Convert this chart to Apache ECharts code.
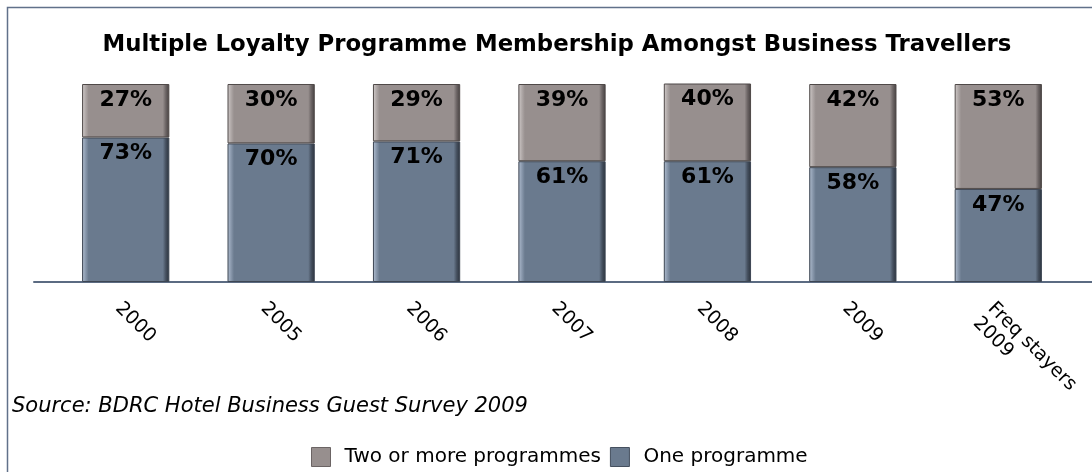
<!DOCTYPE html>
<html>
<head>
<meta charset="utf-8">
<script src="https://cdn.jsdelivr.net/npm/echarts@6/dist/echarts.min.js"></script>
<style>
html,body{margin:0;padding:0;background:#fff;}
#chart{width:1092px;height:472px;}
</style>
</head>
<body>
<div id="chart"></div>
<script>
const categories = ['2000', '2005', '2006', '2007', '2008', '2009', 'Freq stayers\n2009'];
const onePrograme = [73, 70, 71, 61, 61, 58, 47];
const twoOrMore = [27, 30, 29, 39, 40, 42, 53];
const seriesNames = ['One programme', 'Two or more programmes'];
const titleText = 'Multiple Loyalty Programme Membership Amongst Business Travellers';
const sourceText = 'Source: BDRC Hotel Business Guest Survey 2009';

const FONT = '"DejaVu Sans", Verdana, sans-serif';

function bevel(light, mid, main, dark, darker) {
  return {
    type: 'linear', x: 0, y: 0, x2: 1, y2: 0,
    colorStops: [
      { offset: 0, color: light },
      { offset: 0.04, color: mid },
      { offset: 0.075, color: main },
      { offset: 0.925, color: main },
      { offset: 0.96, color: dark },
      { offset: 1, color: darker }
    ]
  };
}

const blueFill = bevel('#b3c0d2', '#8a99ad', '#6a7a8e', '#45505f', '#2a313b');
const greyFill = bevel('#d3cdcc', '#b0a9a8', '#978f8e', '#6b6464', '#443f3f');

const labelCfg = {
  show: true,
  position: 'insideTop',
  distance: 5,
  formatter: '{c}%',
  fontFamily: FONT,
  fontSize: 22,
  fontWeight: 'bold',
  color: '#000'
};

const chart = echarts.init(document.getElementById('chart'), null, { renderer: 'canvas' });
chart.setOption({
  animation: false,
  backgroundColor: '#fff',
  title: [
    {
      text: titleText,
      left: 552,
      textAlign: 'center',
      top: 29,
      textStyle: { fontFamily: FONT, fontSize: 22.8, fontWeight: 'bold', color: '#000' }
    },
    {
      text: sourceText,
      left: 7,
      top: 391,
      textStyle: { fontFamily: FONT, fontSize: 21, fontWeight: 'normal', fontStyle: 'italic', color: '#000' }
    }
  ],
  legend: {
    data: [
      { name: seriesNames[1], itemStyle: { color: '#978f8e', borderColor: '#6b6464', borderWidth: 1 } },
      { name: seriesNames[0], itemStyle: { color: '#6a7a8e', borderColor: '#45505f', borderWidth: 1 } }
    ],
    left: 306,
    top: 442,
    icon: 'rect',
    itemWidth: 19,
    itemHeight: 19,
    itemGap: 9,
    textStyle: { fontFamily: FONT, fontSize: 20, color: '#000', padding: [0, 0, 0, 9] }
  },
  graphic: [
    {
      type: 'rect',
      shape: { x: 7.5, y: 7.5, width: 1300, height: 900 },
      style: { fill: null, stroke: '#61718a', lineWidth: 1.5 },
      silent: true
    }
  ],
  grid: [
    { left: 53, right: 21, top: 84, bottom: 190 },
    { left: 34, right: 0, top: 84, bottom: 190 }
  ],
  xAxis: [
    {
      type: 'category',
      gridIndex: 0,
      data: categories,
      axisLine: { show: false },
      axisTick: { show: false },
      axisLabel: {
        interval: 0,
        rotate: -45,
        margin: 16,
        verticalAlign: 'top',
        fontFamily: FONT,
        fontSize: 19,
        color: '#000',
        lineHeight: 21
      }
    },
    {
      type: 'value',
      gridIndex: 1,
      min: 0, max: 1,
      axisLine: { show: true, lineStyle: { color: '#5b6b82', width: 2 } },
      axisTick: { show: false },
      axisLabel: { show: false },
      splitLine: { show: false }
    }
  ],
  yAxis: [
    { type: 'value', gridIndex: 0, min: 0, max: 100, show: false, splitLine: { show: false } },
    { type: 'value', gridIndex: 1, min: 0, max: 1, show: false, splitLine: { show: false } }
  ],
  series: [
    {
      name: seriesNames[0],
      type: 'bar',
      stack: 'total',
      barWidth: '60%',
      data: onePrograme,
      itemStyle: { color: blueFill, borderColor: '#3d4653', borderWidth: 1 },
      label: labelCfg
    },
    {
      name: seriesNames[1],
      type: 'bar',
      stack: 'total',
      barWidth: '60%',
      data: twoOrMore,
      itemStyle: { color: greyFill, borderColor: '#4f4948', borderWidth: 1 },
      label: labelCfg
    }
  ]
});
</script>
</body>
</html>
